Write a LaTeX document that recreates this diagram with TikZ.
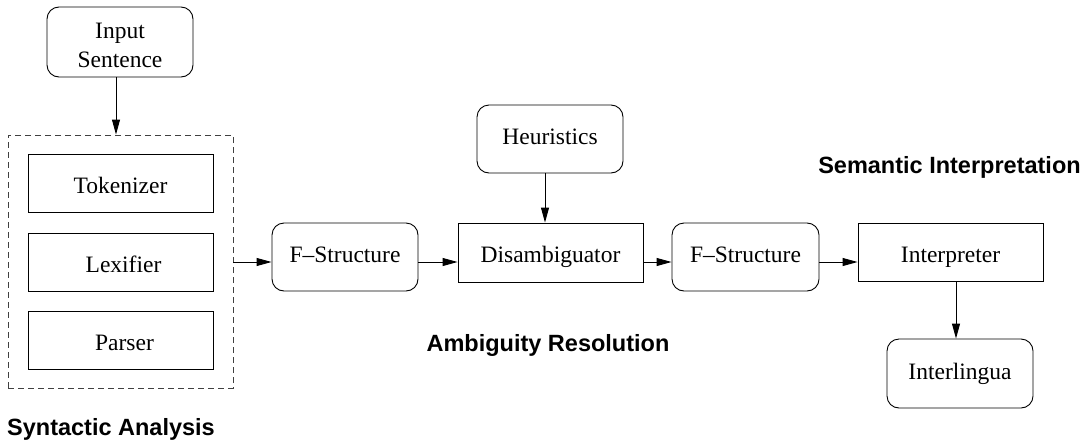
\documentclass[tikz,border=0pt]{standalone}
\usepackage{fontspec}
\setmainfont{Liberation Serif}
\newfontfamily\labfont{Liberation Sans}
\usetikzlibrary{arrows.meta}
\tikzset{
  base/.style={draw=black, line width=0.9pt, inner sep=0pt, align=center,
    font=\fontsize{23.5}{29}\selectfont},
  rbox/.style={base, rounded corners=12pt, text height=16pt, text depth=5pt},
  rbox2/.style={base, rounded corners=12pt},
  sbox/.style={base, text height=22pt, text depth=2pt},
  dbox/.style={draw=black!75, line width=0.9pt, dash pattern=on 6pt off 4pt, inner sep=0pt},
  arr/.style={line width=0.9pt, -{Triangle[length=15pt,width=8pt]}},
  lab/.style={font=\labfont\bfseries\fontsize{23.5}{28}\selectfont, inner sep=0pt, anchor=base}
}
\begin{document}
\begin{tikzpicture}[x=1pt,y=-1pt]
\useasboundingbox (0,0) rectangle (1083,442);
\node[rbox2, minimum width=146pt, minimum height=70pt] (in) at (120,42) {\rule{0pt}{22pt}Input\\Sentence};
\node[dbox, minimum width=225pt, minimum height=253pt] (syn) at (120.5,261.5) {};
\node[sbox, minimum width=185pt, minimum height=58pt] (tok) at (120.5,183) {Tokenizer};
\node[sbox, minimum width=185pt, minimum height=58pt] (lex) at (120.5,262) {\hspace*{6pt}Lexifier};
\node[sbox, minimum width=185pt, minimum height=58pt] (par) at (120.5,340) {\hspace*{8pt}Parser};
\node[rbox, minimum width=146pt, minimum height=68pt] (f1) at (345,257) {F--Structure};
\node[rbox, minimum width=146pt, minimum height=68pt] (heu) at (550,139) {Heuristics};
\node[sbox, minimum width=185pt, minimum height=59pt] (dis) at (550.5,252.5) {Disambiguator};
\node[rbox, minimum width=147pt, minimum height=68pt] (f2) at (745.5,257) {F--Structure};
\node[sbox, minimum width=185pt, minimum height=58pt] (int) at (950.5,252) {Interpreter};
\node[rbox, minimum width=146pt, minimum height=69pt] (il) at (960,373.5) {Interlingua};
\node[lab] (semlab) at (949.5,173) {Semantic Interpretation};
\node[lab] (amblab) at (548,351) {Ambiguity Resolution};
\node[lab] (synlab) at (111,435) {Syntactic Analysis};
\coordinate (row) at (0,262);
\draw[arr] ([xshift=-4pt]in.south) -- ([xshift=-4pt]in.south |- syn.north);
\draw[arr] (syn.east |- row) -- (f1.west |- row);
\draw[arr] (f1.east |- row) -- (dis.west |- row);
\draw[arr] ([xshift=-5pt]heu.south) -- ([xshift=-5pt]heu.south |- dis.north);
\draw[arr] (dis.east |- row) -- (f2.west |- row);
\draw[arr] (f2.east |- row) -- (int.west |- row);
\draw[arr] ([xshift=5.5pt]int.south) -- ([xshift=5.5pt]int.south |- il.north);
\end{tikzpicture}
\end{document}
